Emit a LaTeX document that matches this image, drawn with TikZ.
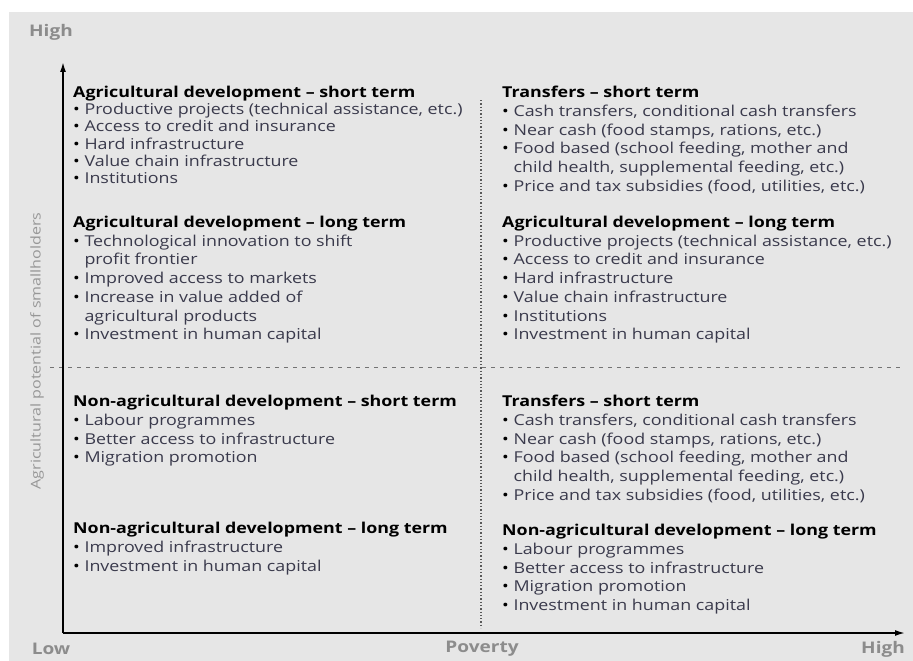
\documentclass[tikz,border=0pt]{standalone}
\usepackage{fontspec}
\setmainfont[FakeStretch=1.19]{Open Sans}
\usepackage{xcolor}
\usetikzlibrary{arrows.meta}
\usetikzlibrary{positioning}
\definecolor{bg}{HTML}{E6E6E6}
\definecolor{itm}{HTML}{3A3A4C}
\definecolor{axl}{HTML}{8C8C8C}
\tikzset{>=latex}
\tikzstyle{blk} = [anchor=north west, inner sep=0pt, align=left, text=itm, font=\fontsize{15}{18.7}\selectfont]
\tikzstyle{axlab} = [draw=none, text=axl, font=\fontsize{16}{18}\selectfont\bfseries]
\tikzstyle{axis} = [-{Latex[length=10pt,width=6pt]}, line width=1.6pt]
\newcommand{\hd}[1]{\textcolor{black}{\bfseries #1}}
\newcommand{\bl}{\textcolor{black}{\textbullet}\ }
\newcommand{\ct}{\phantom{\textbullet\ }}

\begin{document}
\begin{tikzpicture}[x=1pt, y=-1pt]
\useasboundingbox (0,0) rectangle (913,661);
\fill [bg] (9,12) rectangle (913,661);
\coordinate (O) at (63,633);
\coordinate (T) at (63,62);
\coordinate (R) at (905,633);
\coordinate (V1) at (481,100);
\coordinate (V2) at (481,628);
\coordinate (H1) at (50,367);
\coordinate (H2) at (904,367);
\draw [dotted, line width=1.3pt, draw=black!65] (V1) -- (V2);
\draw [dash pattern=on 4pt off 5pt, line width=1pt, draw=black!55] (H1) -- (H2);
\draw [axis] (O) -- (T);
\draw [axis] (O) -- (R);
\node [axlab] (YH) at (51,32) {High};
\node [axlab] (XL) at (51,649) {Low};
\node [axlab] (XP) at (482,649) {Poverty};
\node [axlab] (XH) at (883,649) {High};
\node [draw=none, text=axl!90, rotate=90, font=\fontsize{13.5}{15}\selectfont] (YL) at (37,351) {Agricultural potential of smallholders};
\node [blk, font=\fontsize{15}{17.2}\selectfont] (AS) at (73,86) {\hd{Agricultural development – short term}\\
\bl Productive projects (technical assistance, etc.)\\
\bl Access to credit and insurance\\
\bl Hard infrastructure\\
\bl Value chain infrastructure\\
\bl Institutions};
\node [blk] (AL) at (73,216) {\hd{Agricultural development – long term}\\
\bl Technological innovation to shift\\
\ct profit frontier\\
\bl Improved access to markets\\
\bl Increase in value added of\\
\ct agricultural products\\
\bl Investment in human capital};
\node [blk] (TS1) at (502,86) {\hd{Transfers – short term}\\
\bl Cash transfers, conditional cash transfers\\
\bl Near cash (food stamps, rations, etc.)\\
\bl Food based (school feeding, mother and\\
\ct child health, supplemental feeding, etc.)\\
\bl Price and tax subsidies (food, utilities, etc.)};
\node [blk] (AL2) at (502,216) {\hd{Agricultural development – long term}\\
\bl Productive projects (technical assistance, etc.)\\
\bl Access to credit and insurance\\
\bl Hard infrastructure\\
\bl Value chain infrastructure\\
\bl Institutions\\
\bl Investment in human capital};
\node [blk] (NS) at (73,395) {\hd{Non-agricultural development – short term}\\
\bl Labour programmes\\
\bl Better access to infrastructure\\
\bl Migration promotion};
\node [blk] (NL) at (73,522) {\hd{Non-agricultural development – long term}\\
\bl Improved infrastructure\\
\bl Investment in human capital};
\node [blk] (TS2) at (502,395) {\hd{Transfers – short term}\\
\bl Cash transfers, conditional cash transfers\\
\bl Near cash (food stamps, rations, etc.)\\
\bl Food based (school feeding, mother and\\
\ct child health, supplemental feeding, etc.)\\
\bl Price and tax subsidies (food, utilities, etc.)};
\node [blk] (NL2) at (502,524) {\hd{Non-agricultural development – long term}\\
\bl Labour programmes\\
\bl Better access to infrastructure\\
\bl Migration promotion\\
\bl Investment in human capital};
\end{tikzpicture}
\end{document}
